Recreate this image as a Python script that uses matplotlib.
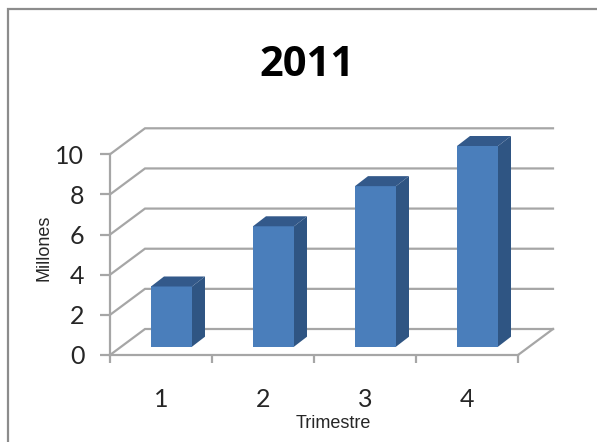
import matplotlib
matplotlib.use("Agg")
import matplotlib.pyplot as plt
from matplotlib.patches import Polygon, Rectangle
from matplotlib.lines import Line2D

title = "2011"
categories = ["1", "2", "3", "4"]
values = [3, 6, 8, 10]
y_ticks = [0, 2, 4, 6, 8, 10]
x_label = "Trimestre"
y_label = "Millones"

W, H = 597, 442
fig = plt.figure(figsize=(W / 100, H / 100), dpi=100, facecolor="white")
L, R, T, B = 110, 518, 154.3, 355
ax = fig.add_axes([L / W, 1 - B / H, (R - L) / W, (B - T) / H])
ax.set_xlim(0.5, 4.5)
ax.set_ylim(0, 10)
ax.patch.set_visible(False)
for s in ("top", "right"):
    ax.spines[s].set_visible(False)
GRID = "#a6a6a6"
for s in ("left", "bottom"):
    ax.spines[s].set_color(GRID)
    ax.spines[s].set_linewidth(1.6)

ux = (R - L) / 4
uy = (B - T) / 10
DX, DY = 35 / ux, 26 / uy

# walls and gridlines
for v in y_ticks:
    ax.plot([0.5, 0.5 + DX, 4.5 + DX], [v, v + DY, v + DY], color=GRID, lw=1.6,
            clip_on=False, zorder=1, solid_joinstyle="miter")
ax.plot([4.5, 4.5 + DX], [0, DY], color=GRID, lw=1.6, clip_on=False, zorder=1)

# bars
BW = 41 / ux
bdx, bdy = 13 / ux, 10 / uy
base = 8.3 / uy
shift = 10.5 / ux
FRONT, DARK = "#4a7ebb", "#2f5583"
TOP = "#33598a"
for i, v in enumerate(values):
    x0 = i + 1 + shift - BW / 2
    x1 = x0 + BW
    ax.add_patch(Rectangle((x0, base), BW, v, fc=FRONT, ec="none", clip_on=False, zorder=3))
    ax.add_patch(Polygon([(x1, base), (x1 + bdx, base + bdy), (x1 + bdx, base + v + bdy), (x1, base + v)],
                         fc=DARK, ec="none", clip_on=False, zorder=3))
    ax.add_patch(Polygon([(x0, base + v), (x0 + bdx, base + v + bdy), (x1 + bdx, base + v + bdy), (x1, base + v)],
                         fc=TOP, ec="none", clip_on=False, zorder=3))

# ticks
TXT = "#262626"
ax.set_yticks(y_ticks)
ax.set_xticks(range(1, 5))
ax.set_xticklabels(categories)
ax.set_xticks([0.5, 1.5, 2.5, 3.5, 4.5], minor=True)
ax.tick_params(axis="y", length=7, width=1.6, color=GRID, labelsize=18, labelcolor=TXT, pad=11.5)
ax.tick_params(axis="x", which="major", length=0, labelsize=18, labelcolor=TXT, pad=24)
ax.tick_params(axis="x", which="minor", length=6, width=1.6, color=GRID)
for lab in ax.get_xticklabels() + ax.get_yticklabels():
    lab.set_fontfamily("Lato")

fig.text(44 / W, 1 - 248 / H, y_label, rotation=90, ha="center", va="center",
         fontsize=13, family="Liberation Sans", color=TXT)
fig.text(333 / W, 1 - 423 / H, x_label, ha="center", va="center",
         fontsize=13, family="Liberation Sans", color=TXT)
fig.text(307 / W, 1 - 65 / H, title, ha="center", va="center",
         fontsize=30, fontweight="bold", family="Open Sans", color="#000000")

# chart frame: only left and top edges fall inside the image
fig.add_artist(Line2D([8 / W, 8 / W, 1.0], [0.0, 1 - 9 / H, 1 - 9 / H], transform=fig.transFigure,
                      color="#8c8c8c", lw=1.6, solid_joinstyle="miter"))

fig.savefig("out.png", dpi=100, facecolor="white")
